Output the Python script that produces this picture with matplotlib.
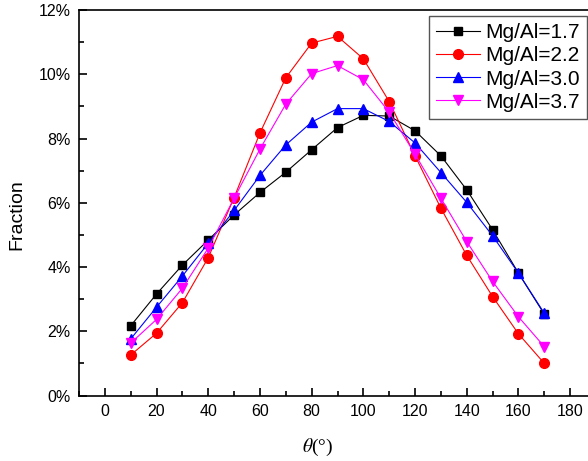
import numpy as np
import matplotlib
matplotlib.use('Agg')
import matplotlib.pyplot as plt
from matplotlib.ticker import MultipleLocator, FuncFormatter

plt.rcParams['font.family'] = ['Liberation Sans', 'DejaVu Sans']
plt.rcParams['mathtext.fontset'] = 'stix'

# angulo theta (grados) y fraccion (%) para cada relacion Mg/Al
theta = np.arange(10, 180, 10)
mg17 = [2.17, 3.16, 4.06, 4.84, 5.62, 6.32, 6.95, 7.65, 8.34, 8.72, 8.70,
        8.24, 7.46, 6.40, 5.16, 3.81, 2.53]
mg22 = [1.26, 1.94, 2.89, 4.29, 6.16, 8.17, 9.89, 10.97, 11.18, 10.48, 9.15,
        7.46, 5.83, 4.36, 3.08, 1.92, 1.00]
mg30 = [1.76, 2.75, 3.72, 4.74, 5.76, 6.85, 7.80, 8.51, 8.93, 8.93, 8.53,
        7.86, 6.94, 6.01, 4.97, 3.81, 2.56]
mg37 = [1.63, 2.37, 3.34, 4.59, 6.14, 7.67, 9.07, 10.02, 10.27, 9.83, 8.82,
        7.51, 6.14, 4.79, 3.55, 2.45, 1.52]
etiquetas = ['Mg/Al=1.7', 'Mg/Al=2.2', 'Mg/Al=3.0', 'Mg/Al=3.7']

fig = plt.figure(figsize=(5.88, 4.61), dpi=100)
ax = fig.add_axes([79 / 588, 65.5 / 461, 517 / 588, 385.5 / 461])

ax.plot(theta, mg17, color='black', marker='s', ms=6, lw=0.8, label=etiquetas[0])
ax.plot(theta, mg22, color='red', marker='o', ms=7, lw=0.8, label=etiquetas[1])
ax.plot(theta, mg30, color='blue', marker='^', ms=7.5, lw=0.8, label=etiquetas[2])
ax.plot(theta, mg37, color='magenta', marker='v', ms=7.5, lw=0.8, label=etiquetas[3])

ax.set_xlim(-10, 190)
ax.set_ylim(0, 12)
ax.xaxis.set_major_locator(MultipleLocator(20))
ax.xaxis.set_minor_locator(MultipleLocator(10))
ax.yaxis.set_major_locator(MultipleLocator(2))
ax.yaxis.set_minor_locator(MultipleLocator(1))
ax.yaxis.set_major_formatter(FuncFormatter(lambda v, p: '%d%%' % v))
ax.tick_params(which='both', direction='in', top=False, right=False,
               labelsize=11.5, width=1.2)
ax.tick_params(which='major', length=6, pad=6)
ax.tick_params(which='minor', length=3.5)
for s in ax.spines.values():
    s.set_linewidth(1.2)

ax.set_xlabel(r'$\theta$(°)', fontsize=14, family='Liberation Serif')
ax.xaxis.set_label_coords(0.462, -0.108)
ax.set_ylabel('Fraction', fontsize=14)
ax.yaxis.set_label_coords(-0.103, 0.47)

leg = ax.legend(loc='upper right', bbox_to_anchor=(587 / 588, 1 - 16 / 461),
                bbox_transform=fig.transFigure, fontsize=15, fancybox=False,
                edgecolor='#555555', framealpha=1, handlelength=2.1,
                borderpad=0.35, labelspacing=0.2, handletextpad=0.25,
                borderaxespad=0)
leg.get_frame().set_linewidth(1.0)

fig.savefig('out.png', dpi=100)
